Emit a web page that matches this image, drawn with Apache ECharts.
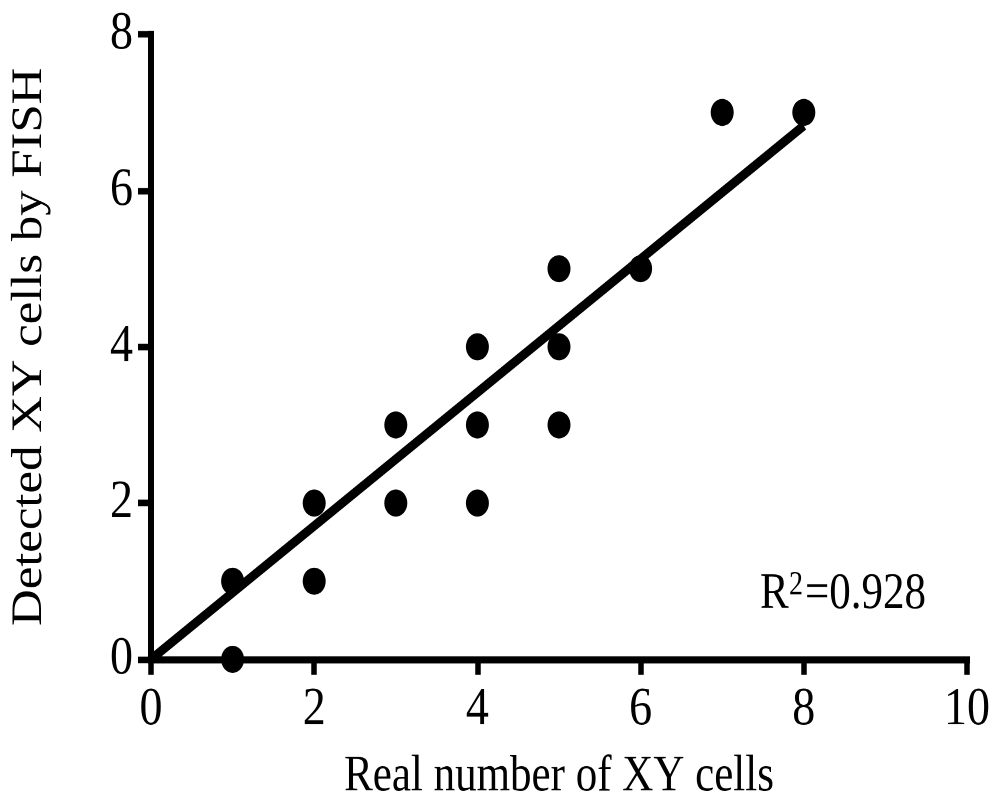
<!DOCTYPE html>
<html>
<head>
<meta charset="utf-8">
<script src="https://cdn.jsdelivr.net/npm/echarts@6/dist/echarts.min.js"></script>
<style>
  html, body { margin: 0; padding: 0; background: #fff; overflow: hidden; }
  #wrap { width: 993px; height: 811px; overflow: hidden; }
  /* the figure is drawn on a shorter canvas and stretched vertically */
  #chart { width: 993px; height: 687px; transform: scaleY(1.1805); transform-origin: 0 0; }
</style>
</head>
<body>
<div id="wrap"><div id="chart"></div></div>
<script>
// Real vs detected XY cell counts
const realCells     = [1, 1, 2, 2, 3, 3, 4, 4, 4, 5, 5, 5, 6, 7, 8];
const detectedCells = [0, 1, 1, 2, 2, 3, 2, 3, 4, 3, 4, 5, 5, 7, 7];

// fitted line end points
const fitX = [0, 8];
const fitY = [0, 6.83];

const xTicks = { min: 0, max: 10, step: 2 };
const yTicks = { min: 0, max: 8, step: 2 };

const xTitle = 'Real number of XY cells';
const yTitle = 'Detected XY cells by FISH';
const rLabel = 'R';
const rSup = '2';
const rValue = '=0.928';

const FONT = 'Liberation Serif';

const points = realCells.map((x, i) => [x, detectedCells[i]]);
const fitLine = fitX.map((x, i) => [x, fitY[i]]);

const chart = echarts.init(document.getElementById('chart'), null, { devicePixelRatio: 2 });

const axisCommon = {
  axisLine: { show: true, onZero: false, lineStyle: { color: '#000', width: 6, cap: 'square' } },
  axisTick: { show: true, inside: false, length: 13, lineStyle: { color: '#000', width: 5.5 } },
  splitLine: { show: false },
  nameTextStyle: { fontFamily: FONT, fontSize: 43, color: '#000' }
};

chart.setOption({
  backgroundColor: '#fff',
  animation: false,
  grid: { left: 150, right: 25, top: 29, bottom: 128.5, containLabel: false },
  xAxis: Object.assign({}, axisCommon, {
    type: 'value',
    min: xTicks.min, max: xTicks.max, interval: xTicks.step,
    name: xTitle, nameLocation: 'middle', nameGap: 78,
    axisLabel: { fontFamily: FONT, fontSize: 46, color: '#000', margin: 20 }
  }),
  yAxis: Object.assign({}, axisCommon, {
    type: 'value',
    min: yTicks.min, max: yTicks.max, interval: yTicks.step,
    name: yTitle, nameLocation: 'middle', nameGap: 100, nameRotate: 90,
    axisLabel: { fontFamily: FONT, fontSize: 46, color: '#000', margin: 18 }
  }),
  series: [
    {
      type: 'line',
      data: fitLine,
      symbol: 'none',
      clip: false,
      lineStyle: { color: '#000', width: 8, cap: 'butt', opacity: 1 },
      z: 2
    },
    {
      type: 'scatter',
      data: points,
      symbol: 'circle',
      symbolSize: 23,
      itemStyle: { color: '#000', opacity: 1 },
      emphasis: { disabled: true },
      clip: false,
      z: 3
    }
  ],
  graphic: [
    {
      type: 'text', left: 760, top: 503 - 21,
      style: { text: rLabel, fontFamily: FONT, fontSize: 43, fill: '#000' }
    },
    {
      type: 'text', left: 789, top: 482,
      style: { text: rSup, fontFamily: FONT, fontSize: 28, fill: '#000' }
    },
    {
      type: 'text', left: 805, top: 503 - 21,
      style: { text: rValue, fontFamily: FONT, fontSize: 43, fill: '#000' }
    }
  ]
});
</script>
</body>
</html>
